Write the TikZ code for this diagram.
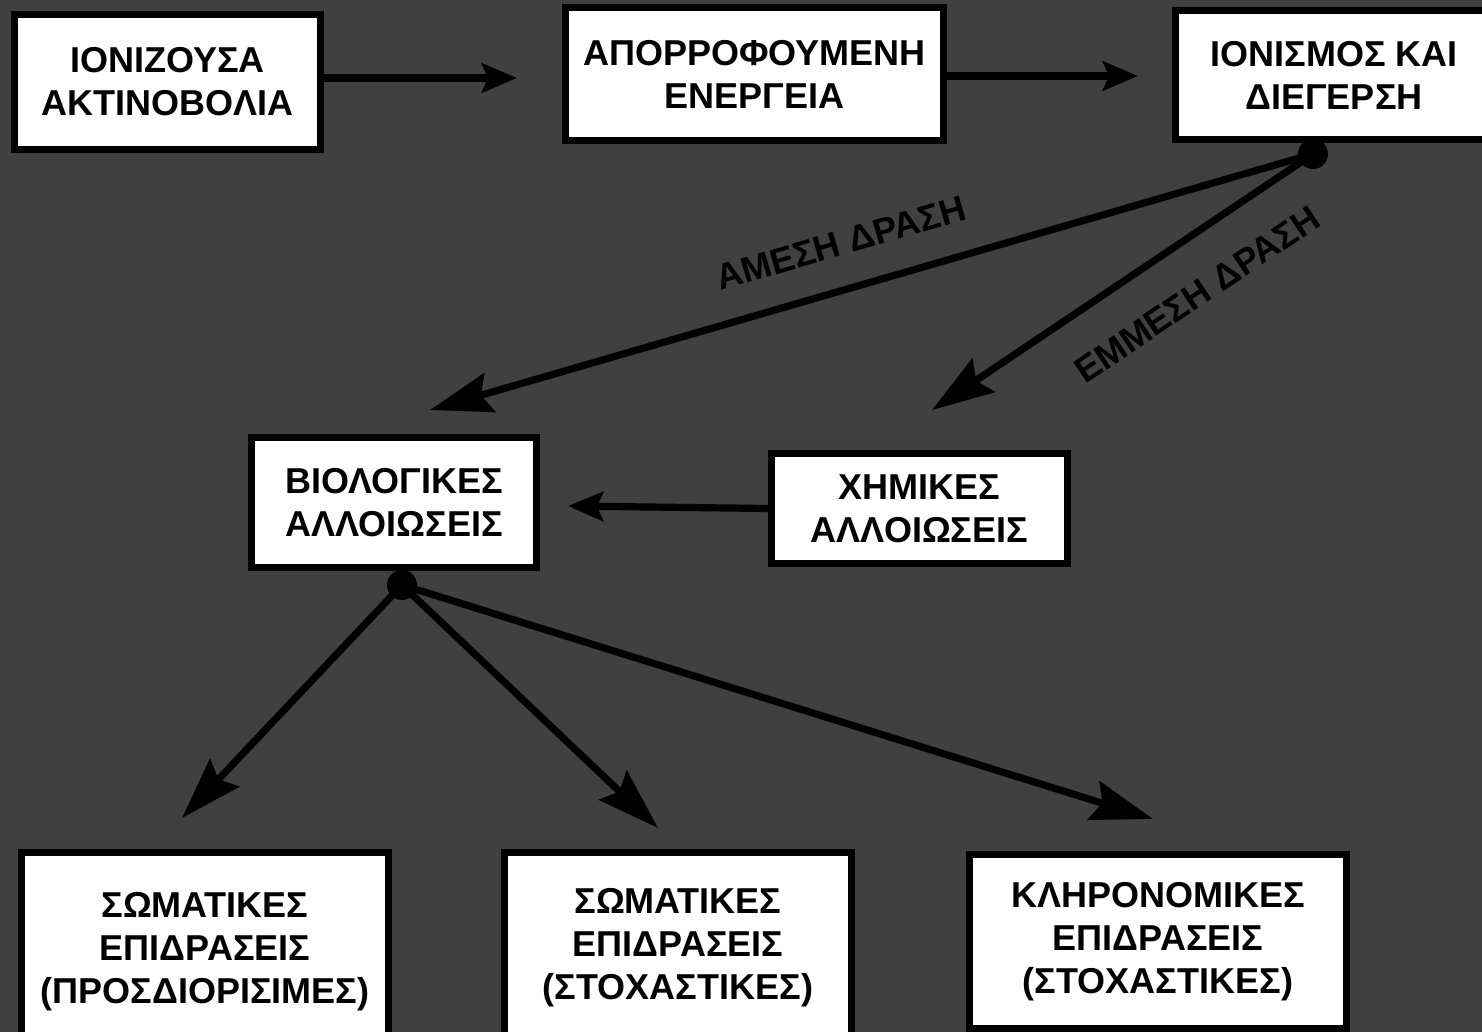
\documentclass[tikz,border=0pt]{standalone}
\usepackage{fontspec}
\setmainfont{Liberation Sans}
\usetikzlibrary{arrows.meta,positioning}
\definecolor{canvas}{HTML}{404040}
\tikzset{
  stage/.style={
    rectangle, draw=black, line width=3.5pt,
    fill=white, text=black,
    font=\bfseries\fontsize{18}{21.5}\selectfont,
    align=center, inner sep=0pt
  },
  junction/.style={circle, fill=black, minimum size=15pt, inner sep=0pt},
  flow/.style={-{Stealth[length=17.5pt,width=14.5pt,inset=3pt]}, line width=3.6pt},
  branch/.style={-{Stealth[length=31pt,width=20pt,inset=4.5pt]}, line width=3.6pt},
  tag/.style={font=\bfseries\fontsize{18}{21}\selectfont, text=black,
    inner sep=0pt, sloped},
}
\begin{document}
\begin{tikzpicture}[x=0.5pt, y=-0.5pt]

  % ── Canvas ───────────────────────────────────────────────────────────────────
  \useasboundingbox (0,0) rectangle (1482,1032);
  \clip (0,0) rectangle (1482,1032);
  \fill[canvas] (0,0) rectangle (1482,1032);

  % ── Top row ──────────────────────────────────────────────────────────────────
  \node[stage, minimum width=153pt, minimum height=67.5pt] (ion) at (167.5,82)
    {ΙΟΝΙΖΟΥΣΑ\\ΑΚΤΙΝΟΒΟΛΙΑ};
  \node[stage, minimum width=189pt, minimum height=66.5pt] (abs) at (754.5,74)
    {ΑΠΟΡΡΟΦΟΥΜΕΝΗ\\ΕΝΕΡΓΕΙΑ};
  \node[stage, minimum width=158.5pt, minimum height=64.5pt] (exc) at (1334,75)
    {ΙΟΝΙΣΜΟΣ ΚΑΙ\\ΔΙΕΓΕΡΣΗ};

  % ── Middle row ───────────────────────────────────────────────────────────────
  \node[stage, minimum width=142.5pt, minimum height=65pt] (bio) at (394,502.5)
    {ΒΙΟΛΟΓΙΚΕΣ\\ΑΛΛΟΙΩΣΕΙΣ};
  \node[stage, minimum width=148pt, minimum height=55pt] (chem) at (919.5,508.5)
    {ΧΗΜΙΚΕΣ\\ΑΛΛΟΙΩΣΕΙΣ};

  % ── Bottom row ───────────────────────────────────────────────────────────────
  \node[stage, minimum width=183.5pt, minimum height=99.5pt] (det) at (205,952)
    {ΣΩΜΑΤΙΚΕΣ\\ΕΠΙΔΡΑΣΕΙΣ\\(ΠΡΟΣΔΙΟΡΙΣΙΜΕΣ)};
  \node[stage, minimum width=173.5pt, minimum height=95.5pt] (sto) at (678,948)
    {ΣΩΜΑΤΙΚΕΣ\\ΕΠΙΔΡΑΣΕΙΣ\\(ΣΤΟΧΑΣΤΙΚΕΣ)};
  \node[stage, minimum width=188.5pt, minimum height=87pt] (her) at (1158,941.5)
    {ΚΛΗΡΟΝΟΜΙΚΕΣ\\ΕΠΙΔΡΑΣΕΙΣ\\(ΣΤΟΧΑΣΤΙΚΕΣ)};

  % ── Junctions and arrow tips ─────────────────────────────────────────────────
  \node[junction] (jexc) at (1313,154) {};
  \node[junction] (jbio) at (402,585) {};
  \coordinate (tAbs) at (517,78);
  \coordinate (tExc) at (1138,76);
  \coordinate (tBioL) at (568,506);
  \coordinate (tBio) at (430,410);
  \coordinate (tChem) at (932,410);
  \coordinate (tDet) at (182,818);
  \coordinate (tSto) at (658,828);
  \coordinate (tHer) at (1153,819);

  % ── Connectors ───────────────────────────────────────────────────────────────
  \draw[flow] (ion.east |- tAbs) -- (tAbs);
  \draw[flow] (abs.east |- tExc) -- (tExc);
  \draw[flow] (chem.west) -- (tBioL);

  \draw[branch] (jexc.center) -- node[tag, pos=0.52, above=15pt] (lDirect)
    {ΑΜΕΣΗ ΔΡΑΣΗ} (tBio);
  \draw[branch] (jexc.center) -- node[tag, pos=0.38, below=18pt] (lIndirect)
    {ΕΜΜΕΣΗ ΔΡΑΣΗ} (tChem);

  \draw[branch] (jbio.center) -- (tDet);
  \draw[branch] (jbio.center) -- (tSto);
  \draw[branch] (jbio.center) -- (tHer);

\end{tikzpicture}
\end{document}
